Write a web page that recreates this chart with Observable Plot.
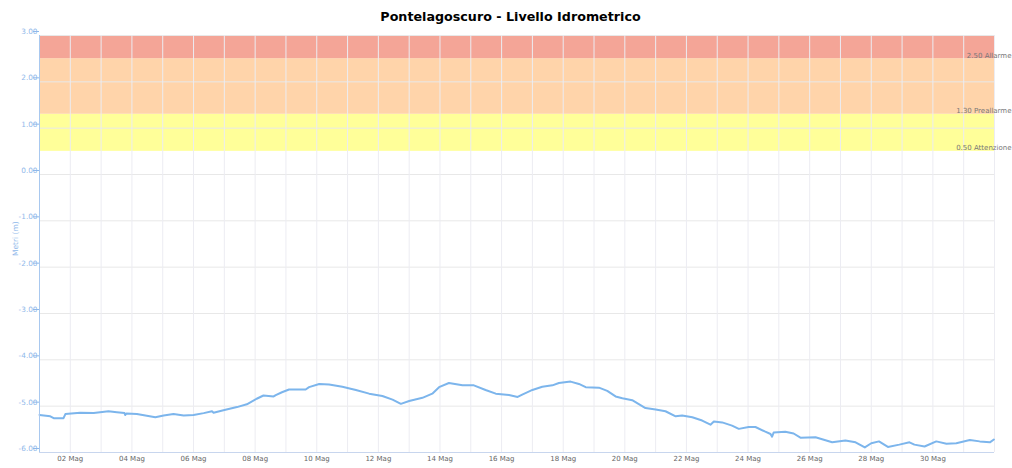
<!DOCTYPE html>
<html><head><meta charset="utf-8">
<script src="https://cdn.jsdelivr.net/npm/d3@7"></script>
<script src="https://cdn.jsdelivr.net/npm/@observablehq/plot@0.6"></script>
<style>
body{margin:0;background:#fff;font-family:"DejaVu Sans",Verdana,sans-serif;}
#title{height:28px;line-height:34px;text-align:center;font-weight:bold;font-size:12.7px;color:#000;padding-left:9px;}
#chart svg{overflow:visible;}
</style></head><body>
<div id="title">Pontelagoscuro - Livello Idrometrico</div>
<div id="chart"></div>
<script>
const startDate = "2023-05-01";
const endDate = "2023-06-01";
const monthLabel = "Mag";
// time of each reading, in days since startDate
const dayOffsets = [0.00,0.35,0.46,0.78,0.84,1.32,1.76,2.24,2.51,2.76,2.78,2.82,3.16,3.76,4.03,4.35,4.68,5.00,5.33,5.60,5.65,5.97,6.41,6.73,7.05,7.27,7.60,7.67,7.87,8.10,8.64,8.75,9.08,9.40,9.83,10.27,10.70,11.13,11.46,11.73,12.00,12.43,12.75,12.97,13.29,13.73,14.10,14.48,14.81,15.24,15.52,15.67,16.00,16.32,16.65,16.86,17.24,17.51,17.73,18.16,18.43,18.70,18.92,19.24,19.67,20.00,20.32,20.65,20.86,21.19,21.51,21.78,21.89,22.16,22.48,22.70,23.02,23.24,23.56,23.73,23.78,23.83,24.21,24.48,24.70,25.19,25.73,26.16,26.49,26.79,27.00,27.25,27.54,27.91,28.24,28.40,28.73,29.11,29.44,29.76,30.20,30.52,30.85,30.98];
const levels = [-5.19,-5.22,-5.26,-5.26,-5.17,-5.14,-5.15,-5.11,-5.13,-5.15,-5.19,-5.16,-5.17,-5.24,-5.20,-5.17,-5.20,-5.19,-5.15,-5.11,-5.14,-5.09,-5.02,-4.96,-4.84,-4.77,-4.79,-4.76,-4.70,-4.64,-4.64,-4.59,-4.52,-4.53,-4.58,-4.65,-4.73,-4.78,-4.86,-4.95,-4.89,-4.82,-4.73,-4.59,-4.50,-4.55,-4.55,-4.65,-4.73,-4.76,-4.80,-4.75,-4.65,-4.58,-4.55,-4.50,-4.47,-4.52,-4.59,-4.60,-4.67,-4.79,-4.83,-4.87,-5.04,-5.07,-5.11,-5.22,-5.20,-5.24,-5.31,-5.40,-5.33,-5.35,-5.42,-5.49,-5.45,-5.45,-5.55,-5.60,-5.66,-5.57,-5.55,-5.59,-5.68,-5.67,-5.78,-5.74,-5.78,-5.89,-5.80,-5.76,-5.88,-5.83,-5.78,-5.83,-5.87,-5.76,-5.81,-5.80,-5.73,-5.76,-5.78,-5.72];
const bandFrom = [0.5, 1.3, 2.5];
const bandTo = [1.3, 2.5, 3.0];
const bandColors = ["#ffff99", "#ffd4aa", "#f4a597"];
const bandLabels = ["0.50 Attenzione", "1.30 Preallarme", "2.50 Allarme"];
const yTicks = [-6, -5, -4, -3, -2, -1, 0, 1, 2, 3];
const yTitle = "Metri (m)";

const t0 = new Date(startDate + "T00:00:00Z");
const t1 = new Date(endDate + "T00:00:00Z");
const series = dayOffsets.map((d, i) => ({date: new Date(+t0 + d * 864e5), level: levels[i]}));
const bands = bandFrom.map((f, i) => ({from: f, to: bandTo[i], color: bandColors[i], label: bandLabels[i], x1: t0, x2: t1}));
const dayGrid = d3.utcDay.range(t0, d3.utcDay.offset(t1, 1));
const xTicks = d3.utcDay.range(t0, t1).filter((d, i) => i % 2 === 1);

const chart = Plot.plot({
  width: 1012,
  height: 440,
  marginTop: 7,
  marginBottom: 16,
  marginLeft: 39,
  marginRight: 18,
  style: {fontFamily: '"DejaVu Sans", Verdana, sans-serif', background: "#fff"},
  x: {type: "utc", domain: [t0, t1]},
  y: {domain: [-6, 3]},
  color: {type: "identity"},
  marks: [
    Plot.rect(bands, {x1: "x1", x2: "x2", y1: "from", y2: "to", fill: "color"}),
    Plot.gridY(yTicks, {stroke: "#e8e8e8", strokeOpacity: 1}),
    Plot.gridX(dayGrid, {stroke: "#ececf2", strokeOpacity: 1}),
    Plot.line(series, {x: "date", y: "level", stroke: "#7cb5ec", strokeWidth: 2}),
    Plot.ruleX([t0], {stroke: "#a8c8ef"}),
    Plot.ruleY([-6], {stroke: "#c8d6ee"}),
    Plot.axisY(yTicks, {tickFormat: d => d.toFixed(2), tickSize: 6, tickPadding: -4, dy: -4, color: "#8fb8ea", fontSize: 7.3, label: null}),
    Plot.axisX(xTicks, {tickSize: 0, tickPadding: 4, tickFormat: d => d3.utcFormat("%d")(d) + " " + monthLabel, color: "#666", fontSize: 7, label: null}),
    Plot.text([yTitle], {y: () => -1.76, frameAnchor: "left", rotate: -90, dx: -24, fill: "#8fb8ea", fontSize: 7.5}),
    Plot.text(bands, {y: "from", text: "label", frameAnchor: "right", textAnchor: "end", dx: 17, lineAnchor: "bottom", dy: -1, fill: "#777", fontSize: 7})
  ]
});
document.getElementById("chart").appendChild(chart);
</script>
</body></html>
